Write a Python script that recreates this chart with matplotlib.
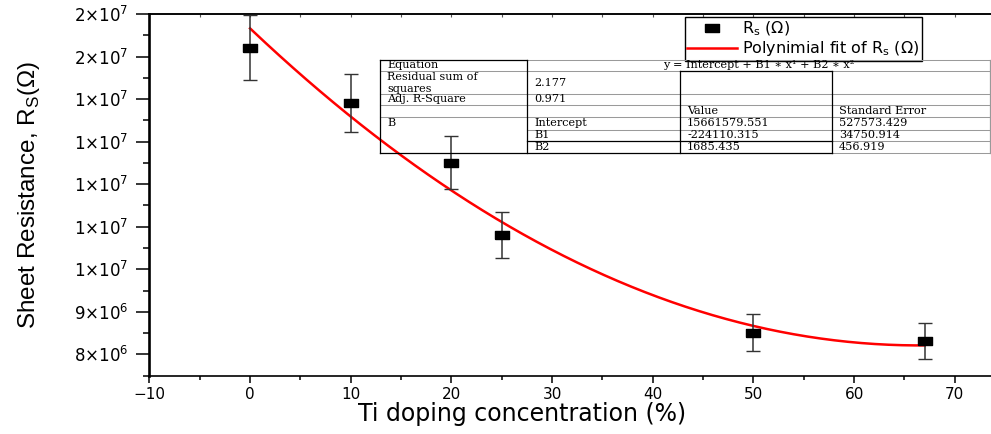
import numpy as np
import matplotlib
matplotlib.use("Agg")
import matplotlib.pyplot as plt
from matplotlib.ticker import MultipleLocator, FuncFormatter
from matplotlib.transforms import Affine2D
from matplotlib.lines import Line2D
from matplotlib import font_manager

# ---------------- data ----------------
ti_conc = [0, 10, 20, 25, 50, 67]
rs_values = [1.521e7, 1.391e7, 1.251e7, 1.080e7, 8.51e6, 8.31e6]
rs_errors = [0.76e6, 0.69e6, 0.62e6, 0.54e6, 0.43e6, 0.42e6]

fit_intercept = 15661579.551
fit_b1 = -224110.315
fit_b2 = 1685.435

table_rows = [
    ["Equation", "y = Intercept + B1 \u2217 x\u00b9 + B2 \u2217 x\u00b2", "", ""],
    ["Residual sum of\nsquares", "2.177", "", ""],
    ["Adj. R-Square", "0.971", "", ""],
    ["", "", "Value", "Standard Error"],
    ["B", "Intercept", "15661579.551", "527573.429"],
    ["", "B1", "-224110.315", "34750.914"],
    ["", "B2", "1685.435", "456.919"],
]

W, H = 991, 434
fig = plt.figure(figsize=(W / 100, H / 100), dpi=100)

avail = {f.name for f in font_manager.fontManager.ttflist}
narrow = "Liberation Sans Narrow" if "Liberation Sans Narrow" in avail else "Liberation Sans"

ax_l, ax_r, ax_t, ax_b = 149.4, 991, 14, 375.7
ax = fig.add_axes([ax_l / W, 1 - ax_b / H, (ax_r - ax_l) / W, (ax_b - ax_t) / H])

# fit curve from table coefficients
xf = np.linspace(min(ti_conc), max(ti_conc), 300)
yf = np.polyval([fit_b2, fit_b1, fit_intercept], xf)
ax.plot(xf, yf, color="#ff0000", lw=1.8, zorder=2, label="Polynimial fit of R$_{\\mathregular{s}}$ (\u03a9)")

ax.errorbar(ti_conc, rs_values, yerr=rs_errors, fmt="none", ecolor="#333333",
            elinewidth=1.1, capsize=4.8, capthick=1.0, zorder=3)
rect = [(-1, -0.5), (1, -0.5), (1, 0.5), (-1, 0.5), (-1, -0.5)]
ax.plot(ti_conc, rs_values, linestyle="none", marker=rect, markersize=10.5,
        color="black", zorder=4, label="R$_{\\mathregular{s}}$ (\u03a9)")

ax.set_xlim(-10, 73.6)
ax.set_ylim(7.5e6, 1.6e7)
ax.xaxis.set_major_locator(MultipleLocator(10))
ax.xaxis.set_minor_locator(MultipleLocator(5))
ax.yaxis.set_major_locator(MultipleLocator(1e6))
ax.yaxis.set_minor_locator(MultipleLocator(5e5))


def sci_fmt(v, pos):
    e = int(np.floor(np.log10(v)))
    m = int(np.floor(v / 10 ** e + 0.5))
    return f"{m}\u00d710$^{{{e}}}$"


ax.yaxis.set_major_formatter(FuncFormatter(sci_fmt))

ax.spines["right"].set_visible(False)
ax.spines["left"].set_linewidth(1.9)
ax.spines["bottom"].set_linewidth(1.2)
ax.spines["top"].set_linewidth(1.1)

ax.tick_params(axis="x", which="major", direction="out", length=5, width=1.1,
               labelsize=11, pad=3.0)
ax.tick_params(axis="x", which="minor", direction="out", length=2.6, width=1.1)
ax.tick_params(axis="y", which="major", direction="out", length=9.4, width=1.1,
               labelsize=12, pad=5.5)
ax.tick_params(axis="y", which="minor", direction="out", length=4.3, width=1.1)

sec = ax.secondary_xaxis("top")
sec.xaxis.set_major_locator(MultipleLocator(5))
sec.tick_params(axis="x", direction="in", length=2.5, width=0.8, labeltop=False, colors="#555555")
sec.spines["top"].set_linewidth(1.1)

ax.set_xlabel("Ti doping concentration (%)", fontsize=17, family="DejaVu Sans")
ax.xaxis.set_label_coords((522 - ax_l) / (ax_r - ax_l), -(421 - ax_b) / (ax_b - ax_t))
ax.xaxis.label.set_va("baseline")

ax.set_ylabel("Sheet Resistance, R$_{\\mathregular{S}}$(\u03a9)", fontsize=17.5, family=narrow)
ax.yaxis.set_label_coords((42 - ax_l) / (ax_r - ax_l), 0.5)

leg = ax.legend(handles=[ax.lines[-1], ax.lines[0]], loc="upper left",
                bbox_to_anchor=(685 / W, 1 - 17 / H), bbox_transform=fig.transFigure,
                borderaxespad=0, fontsize=11.5, frameon=True, fancybox=False,
                edgecolor="black", framealpha=1, handlelength=3.1,
                handletextpad=0.35, borderpad=0.15, labelspacing=0.1)
leg.get_frame().set_linewidth(1.0)

# ---------------- table (figure pixel coords) ----------------
pix = Affine2D().scale(1 / W, -1 / H).translate(0, 1) + fig.transFigure
cols = [380, 527, 680, 832, 990]
rows_y = [59.5, 70.5, 94, 105, 116.5, 130, 141, 153]
gray = "#9a9a9a"


def hline(y, x0, x1, c, lw=0.75):
    fig.add_artist(Line2D([x0, x1], [y, y], transform=pix, color=c, lw=lw, zorder=5))


def vline(x, y0, y1, c, lw=0.9):
    fig.add_artist(Line2D([x, x], [y0, y1], transform=pix, color=c, lw=lw, zorder=5))


for y in rows_y[:5]:
    hline(y, cols[1], cols[4], gray)
for y in rows_y[1:5]:
    hline(y, cols[0], cols[1], gray)
hline(rows_y[5], cols[1], cols[4], gray)
hline(rows_y[6], cols[3], cols[4], gray)
hline(rows_y[7], cols[3], cols[4], gray)
hline(rows_y[6], cols[1], cols[3], "black", 0.9)
hline(rows_y[7], cols[0], cols[3], "black", 0.9)
hline(rows_y[0], cols[0], cols[1], "black", 0.9)
hline(rows_y[1], cols[2], cols[3], "black", 0.9)
vline(cols[0], rows_y[0], rows_y[7], "black")
vline(cols[1], rows_y[0], rows_y[7], "black")
vline(cols[2], rows_y[1], rows_y[7], "black")
vline(cols[3], rows_y[1], rows_y[7], "black")
vline(cols[4], rows_y[0], rows_y[7], gray)

tfont = dict(family=["DejaVu Serif", "DejaVu Sans"], fontsize=8.1, color="black",
             transform=pix, zorder=6, va="center")
text_y = [65, 82.5, 99.5, 111, 123, 135.5, 147]
for r, row in enumerate(table_rows):
    y = text_y[r]
    for c, s in enumerate(row):
        if not s:
            continue
        if r == 0 and c == 1:
            fig.text((cols[1] + cols[4]) / 2, y, s, ha="center", **tfont)
        elif r == 1 and c == 0:
            fig.text(cols[0] + 7, 77, "Residual sum of", ha="left", **tfont)
            fig.text(cols[0] + 7, 88.5, "squares", ha="left", **tfont)
        else:
            fig.text(cols[c] + 7, y, s, ha="left", **tfont)

fig.savefig("out.png", dpi=100)
